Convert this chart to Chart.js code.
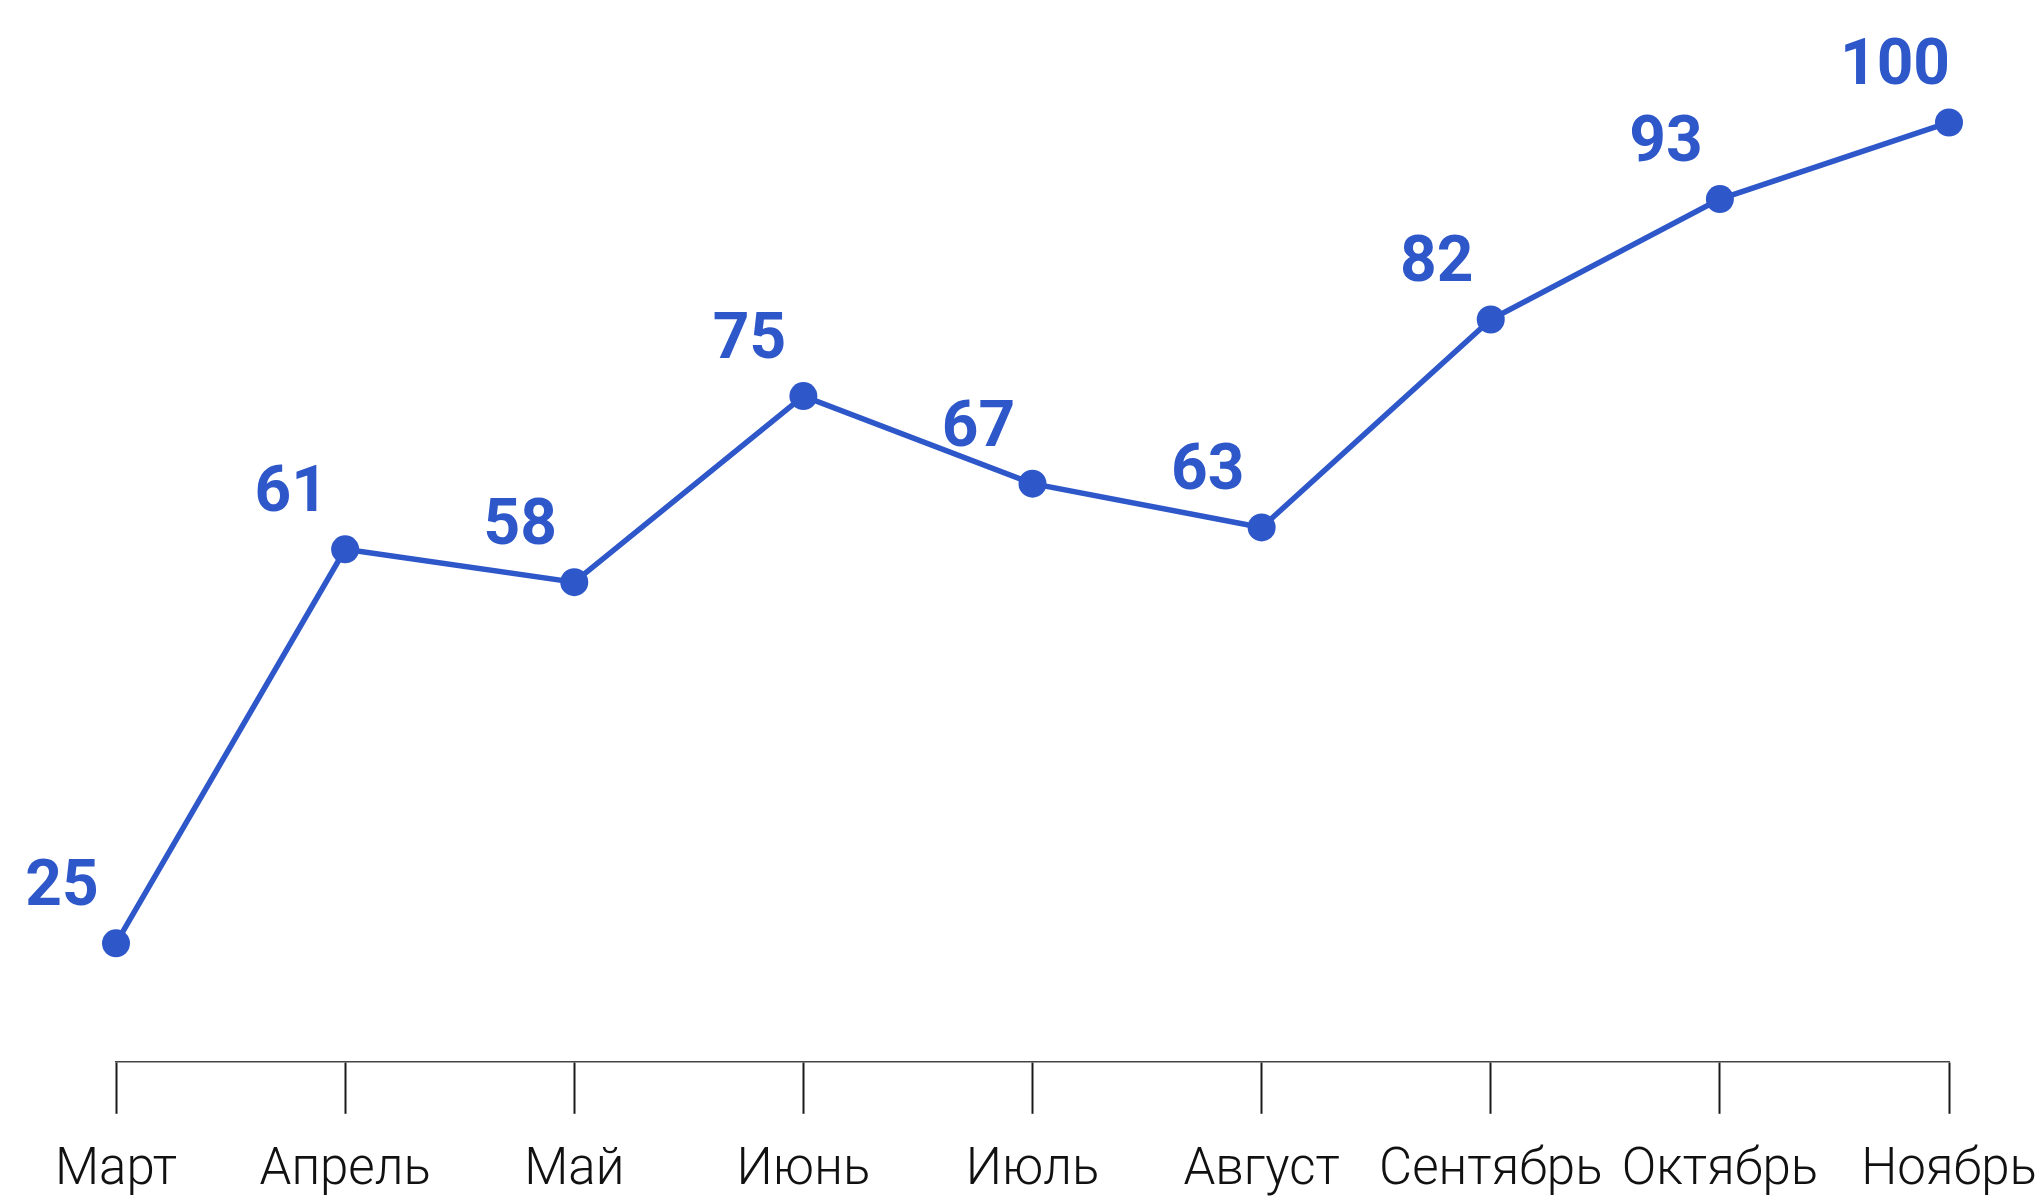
<!DOCTYPE html>
<html>
<head>
<meta charset="utf-8">
<script src="https://cdn.jsdelivr.net/npm/chart.js@4/dist/chart.umd.min.js"></script>
<style>
  html, body { margin: 0; padding: 0; background: #ffffff; overflow: hidden; }
  #wrap { position: relative; width: 2043px; height: 1229px; }
</style>
</head>
<body>
<div id="wrap"><canvas id="c"></canvas></div>
<script>
const categories = ['Март', 'Апрель', 'Май', 'Июнь', 'Июль', 'Август', 'Сентябрь', 'Октябрь', 'Ноябрь'];
const values = [25, 61, 58, 75, 67, 63, 82, 93, 100];

const BLUE = '#2e57c9';

const valueLabels = {
  id: 'valueLabels',
  afterDatasetsDraw(chart) {
    const ctx = chart.ctx;
    const meta = chart.getDatasetMeta(0);
    ctx.save();
    ctx.fillStyle = BLUE;
    ctx.font = "bold 64px Roboto, sans-serif";
    ctx.textAlign = 'center';
    ctx.textBaseline = 'alphabetic';
    meta.data.forEach((pt, i) => {
      ctx.fillText(String(values[i]), pt.x - 54, pt.y - 38);
    });
    ctx.restore();
  }
};

new Chart(document.getElementById('c'), {
  type: 'line',
  data: {
    labels: categories,
    datasets: [{
      data: values,
      borderColor: BLUE,
      backgroundColor: BLUE,
      borderWidth: 5.5,
      pointRadius: 14,
      pointHoverRadius: 14,
      pointBackgroundColor: BLUE,
      pointBorderWidth: 0,
      tension: 0,
      clip: false
    }]
  },
  options: {
    responsive: true,
    maintainAspectRatio: false,
    animation: false,
    layout: { autoPadding: false, padding: { left: 116, right: 94, top: 0, bottom: 0 } },
    plugins: { legend: { display: false }, tooltip: { enabled: false } },
    scales: {
      x: {
        type: 'category',
        offset: false,
        grid: {
          drawOnChartArea: false,
          drawTicks: true,
          tickLength: 52,
          tickColor: '#1a1a1a',
          tickWidth: 2
        },
        border: { display: true, color: '#444444', width: 1.5 },
        ticks: {
          autoSkip: false,
          maxRotation: 0,
          minRotation: 0,
          padding: 27,
          color: '#111111',
          font: { family: 'Roboto', weight: 300, size: 51 }
        },
        afterFit(scale) { scale.paddingLeft = 0; scale.paddingRight = 0; }
      },
      y: {
        display: false,
        min: 14.18,
        max: 111.19
      }
    }
  },
  plugins: [valueLabels]
});
</script>
</body>
</html>
